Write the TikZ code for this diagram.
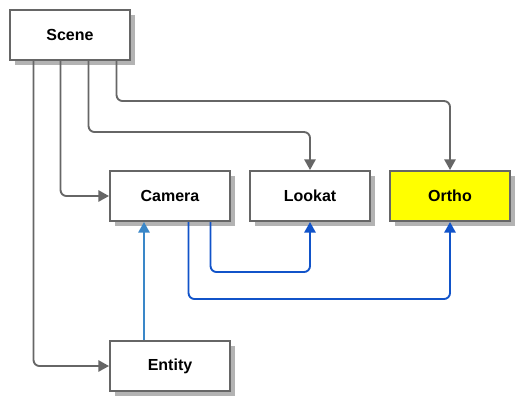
\documentclass[tikz,border=0pt]{standalone}
\usepackage{fontspec}
\setmainfont{Liberation Sans}
\usetikzlibrary{arrows.meta,shadows,calc}
\definecolor{edgegray}{HTML}{666666}
\definecolor{shadowgray}{HTML}{B3B3B3}
\definecolor{darkblue}{HTML}{1153C9}
\definecolor{lightblue}{HTML}{3A87C8}
\definecolor{orthoyellow}{HTML}{FFFF00}
\tikzset{
  box/.style={draw=edgegray, line width=1.5pt, fill=white, minimum width=90pt, minimum height=37.5pt,
    inner sep=0pt, font=\fontsize{12}{14}\selectfont\bfseries,
    drop shadow={shadow xshift=3.75pt, shadow yshift=-3.75pt, fill=shadowgray, opacity=1}},
  conn/.style={line width=1.4pt, rounded corners=4.5pt, -{Triangle[length=8pt,width=8.5pt]}},
  grayconn/.style={conn, draw=edgegray, fill=none},
  blueconn/.style={conn, draw=darkblue},
  lblueconn/.style={conn, draw=lightblue},
}
\begin{document}
\begin{tikzpicture}[x=0.75pt,y=-0.75pt]
\useasboundingbox (0,0) rectangle (530,415);
\node[box] (scene) at (70,35) {Scene};
\node[box] (camera) at (170,196) {Camera};
\node[box] (lookat) at (310,196) {Lookat};
\node[box, fill=orthoyellow] (ortho) at (450,196) {Ortho};
\node[box] (entity) at (170,366) {Entity};
\draw[grayconn] ($(scene.south west)+(24.5,0)$) |- (entity.west);
\draw[grayconn] ($(scene.south west)+(51.5,0)$) |- (camera.west);
\draw[grayconn] ($(scene.south west)+(79.5,0)$) -- ++(0,71) -| (lookat.north);
\draw[grayconn] ($(scene.south west)+(107.5,0)$) -- ++(0,40) -| (ortho.north);
\draw[blueconn] ($(camera.south west)+(101.5,0)$) -- ++(0,50) -| (lookat.south);
\draw[blueconn] ($(camera.south west)+(79.5,0)$) -- ++(0,77) -| (ortho.south);
\draw[lblueconn] ($(entity.north west)+(35,0)$) -- ($(camera.south west)+(35,0)$);
\end{tikzpicture}
\end{document}
